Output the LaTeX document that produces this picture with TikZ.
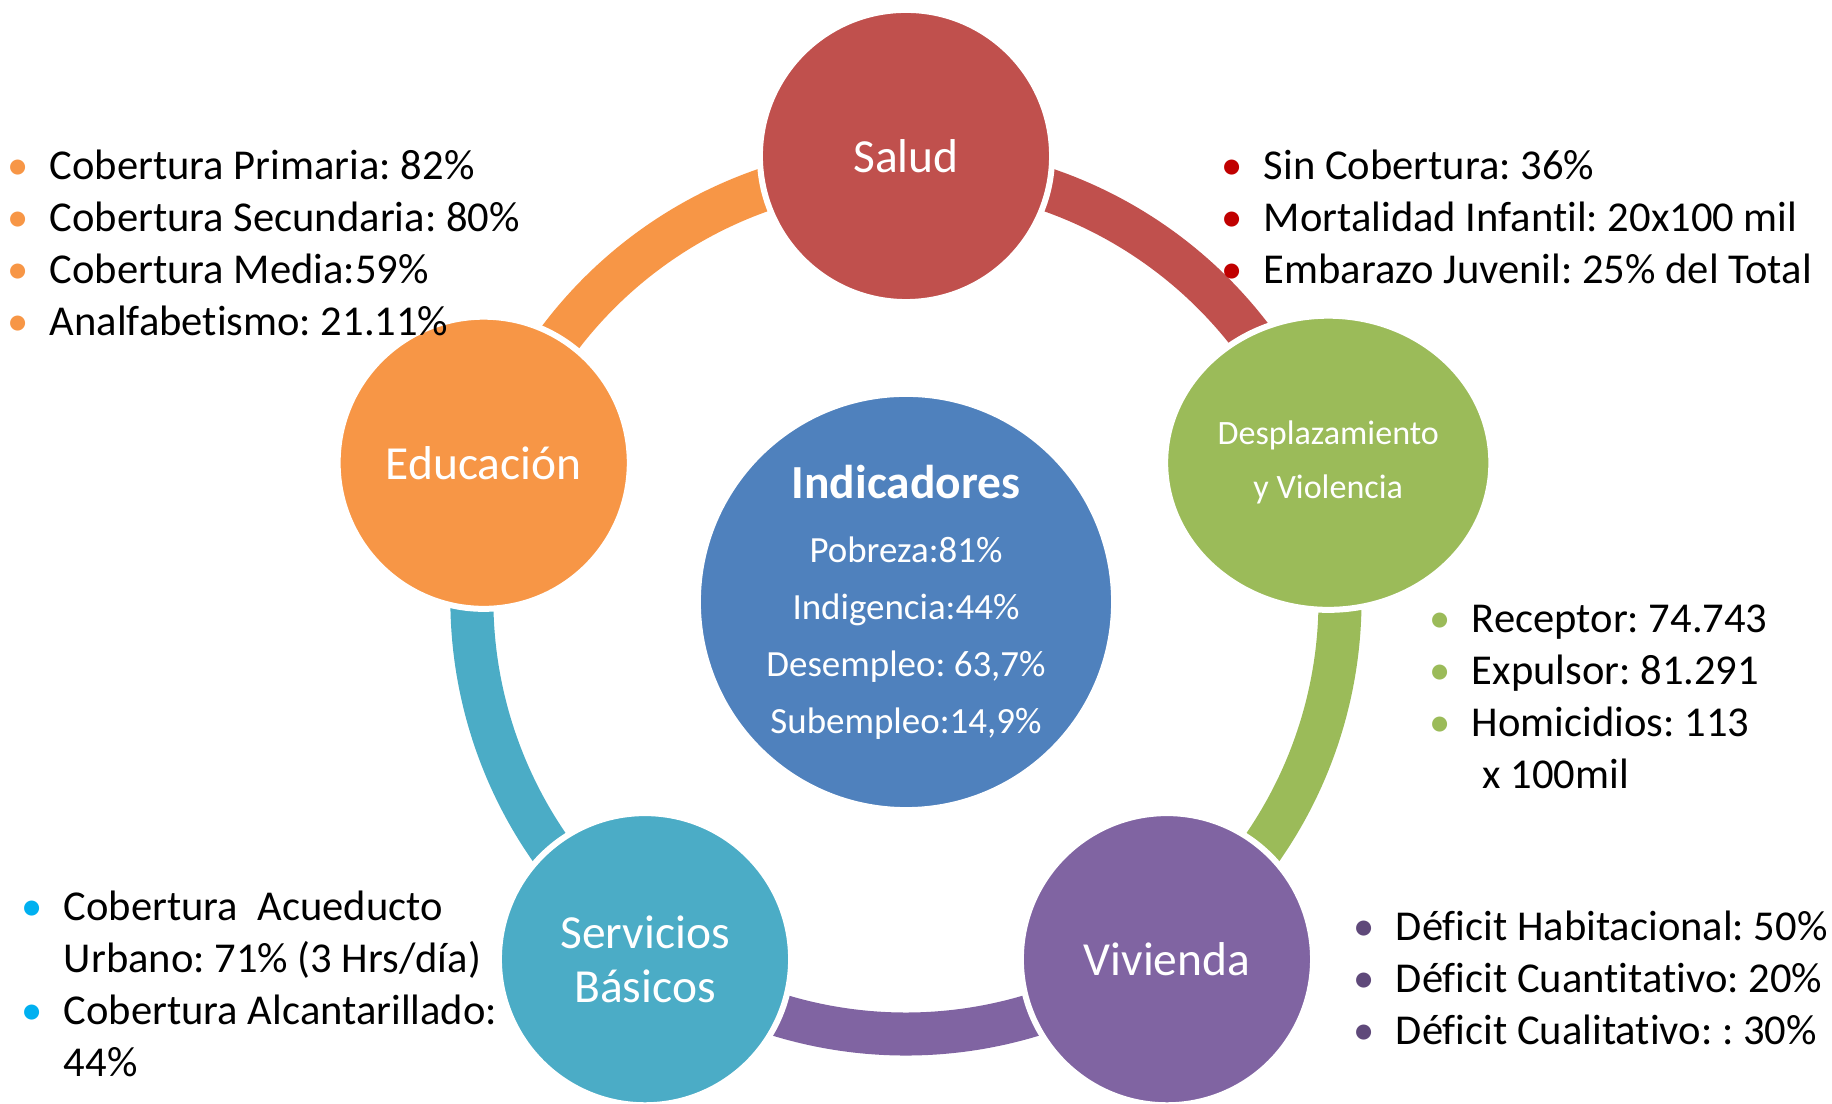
\documentclass[tikz,border=0pt]{standalone}
\usepackage{fontspec}
\setmainfont{Carlito}[Ligatures=NoCommon]
\usetikzlibrary{shapes.geometric}
\definecolor{salud}{HTML}{C0504D}
\definecolor{desplaz}{HTML}{9BBB59}
\definecolor{vivienda}{HTML}{8064A2}
\definecolor{servicios}{HTML}{4BACC6}
\definecolor{educacion}{HTML}{F79646}
\definecolor{indic}{HTML}{4F81BD}
\definecolor{ptoRojo}{HTML}{C00000}
\definecolor{ptoAzul}{HTML}{00B0F0}
\definecolor{ptoMorado}{HTML}{5F497A}
\newcommand{\pto}[1]{\makebox[6pt]{\textcolor{#1}{\textbullet}}}
\frenchspacing

\begin{document}
\begin{tikzpicture}[x=0.01cm, y=0.01cm,
  bubble/.style={circle, minimum size=2.92cm, inner sep=0pt, draw=white, line width=0.06cm,
    text=white, align=center, font=\fontsize{13.5}{15.4}\selectfont},
  band/.style={line width=0.43cm},
  lista/.style={anchor=base west, inner sep=0pt, font=\fontsize{12.1}{14.7}\selectfont}]
  \useasboundingbox (-906,-504) rectangle (926,600);

  % anillo
  \draw[band, educacion] (162:434) arc[start angle=162, end angle=90, radius=4.34cm];
  \draw[band, salud] (90:434) arc[start angle=90, end angle=18, radius=4.34cm];
  \draw[band, desplaz] (18:434) arc[start angle=18, end angle=-54, radius=4.34cm];
  \draw[band, vivienda] (-54:434) arc[start angle=-54, end angle=-126, radius=4.34cm];
  \draw[band, servicios] (-126:434) arc[start angle=-126, end angle=-198, radius=4.34cm];

  \node[circle, minimum size=4.16cm, inner sep=0pt, fill=indic, draw=white, line width=0.06cm,
    text=white, align=center, font=\fontsize{10.5}{16.2}\selectfont] (indicadores) at (0,-2)
    {{\fontsize{13.5}{16}\selectfont\bfseries Indicadores}\\[2pt]
     Pobreza:81\%\\ Indigencia:44\%\\ Desempleo: 63,7\%\\ Subempleo:14,9\%};

  \node[bubble, fill=salud] (nSalud) at (90:444) {Salud};
  \node[ellipse, minimum width=3.26cm, minimum height=2.94cm, inner sep=0pt, draw=white,
    line width=0.06cm, fill=desplaz, text=white, align=center,
    font=\fontsize{9.7}{15.4}\selectfont] (nDesplaz) at (18:444) {Desplazamiento\\y Violencia};
  \node[bubble, fill=vivienda] (nVivienda) at (-54:444) {Vivienda};
  \node[bubble, fill=servicios] (nServicios) at (-126:444) {Servicios\\Básicos};
  \node[bubble, fill=educacion] (nEducacion) at (162:444) {Educación};

  % listas
  \node[lista] (listaEducacion) at (-899,420) {\begin{tabular}[t]{@{}l@{\hspace{6pt}}l@{}}
    \pto{educacion} & Cobertura Primaria: 82\%\\
    \pto{educacion} & Cobertura Secundaria: 80\%\\
    \pto{educacion} & Cobertura Media:59\%\\
    \pto{educacion} & Analfabetismo: 21.11\%
  \end{tabular}};
  \node[lista] (listaSalud) at (315,420) {\begin{tabular}[t]{@{}l@{\hspace{6pt}}l@{}}
    \pto{ptoRojo} & Sin Cobertura: 36\%\\
    \pto{ptoRojo} & Mortalidad Infantil: 20x100 mil\\
    \pto{ptoRojo} & Embarazo Juvenil: 25\% del Total
  \end{tabular}};
  \node[lista] (listaDesplaz) at (523,-33) {\begin{tabular}[t]{@{}l@{\hspace{6pt}}l@{}}
    \pto{desplaz} & Receptor: 74.743\\
    \pto{desplaz} & Expulsor: 81.291\\
    \pto{desplaz} & Homicidios: 113\\
    & \hspace*{0.25em}x 100mil
  \end{tabular}};
  \node[lista] (listaServicios) at (-885,-321) {\begin{tabular}[t]{@{}l@{\hspace{6pt}}l@{}}
    \pto{ptoAzul} & Cobertura\ \ Acueducto\\
    & Urbano: 71\% (3 Hrs/día)\\
    \pto{ptoAzul} & Cobertura Alcantarillado:\\
    & 44\%
  \end{tabular}};
  \node[lista] (listaVivienda) at (447,-341) {\begin{tabular}[t]{@{}l@{\hspace{6pt}}l@{}}
    \pto{ptoMorado} & Déficit Habitacional: 50\%\\
    \pto{ptoMorado} & Déficit Cuantitativo: 20\%\\
    \pto{ptoMorado} & Déficit Cualitativo: : 30\%
  \end{tabular}};
\end{tikzpicture}
\end{document}
